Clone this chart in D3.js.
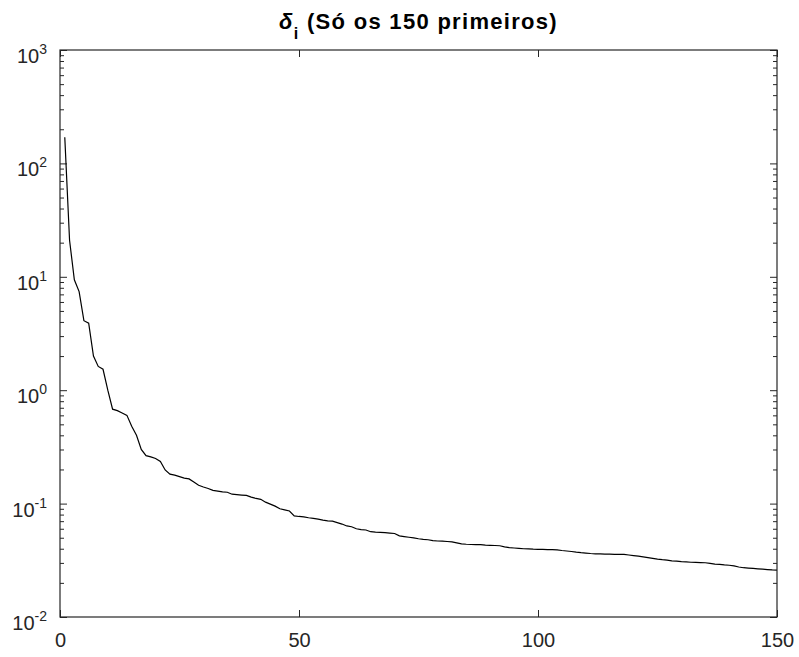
<!DOCTYPE html>
<html>
<head>
<meta charset="utf-8">
<script src="https://cdn.jsdelivr.net/npm/d3@7"></script>
<style>
  body { margin: 0; background: #fff; }
  svg { display: block; font-family: "Liberation Sans", Arial, Helvetica, sans-serif; }
  .axis text { fill: #262626; font-size: 20px; }
  .axis line { stroke: #262626; }
</style>
</head>
<body>
<svg id="chart"></svg>
<script>
// delta_i values, i = 1..150
const deltaValues = [
  170, 21, 9.4, 7.4, 4.1, 3.9, 2.0, 1.62, 1.53, 1.0,
  0.68, 0.66, 0.63, 0.60, 0.48, 0.40, 0.30, 0.265, 0.258, 0.250,
  0.235, 0.198, 0.182, 0.178, 0.173, 0.168, 0.165, 0.155, 0.145, 0.140,
  0.136, 0.131, 0.129, 0.127, 0.126, 0.121, 0.120, 0.119, 0.118, 0.114,
  0.111, 0.109, 0.103, 0.099, 0.095, 0.090, 0.088, 0.086, 0.078, 0.077,
  0.0765, 0.075, 0.0742, 0.073, 0.0715, 0.0705, 0.070, 0.068, 0.066, 0.0635,
  0.0625, 0.060, 0.059, 0.0585, 0.0565, 0.056, 0.0558, 0.0555, 0.0550, 0.0545,
  0.052, 0.0512, 0.0505, 0.0498, 0.0490, 0.0484, 0.0480, 0.0472, 0.0468, 0.0466,
  0.0463, 0.0460, 0.0450, 0.0441, 0.0438, 0.0436, 0.0435, 0.0434, 0.0431, 0.0429,
  0.0427, 0.0425, 0.0415, 0.0409, 0.0406, 0.0403, 0.0400, 0.0398, 0.0396, 0.0395,
  0.0394, 0.0393, 0.0392, 0.0391, 0.0386, 0.0382, 0.0378, 0.0373, 0.0369, 0.0366,
  0.0363, 0.0361, 0.0360, 0.0359, 0.0358, 0.0357, 0.0357, 0.0356, 0.0352, 0.0348,
  0.0344, 0.0339, 0.0334, 0.0329, 0.0324, 0.0320, 0.0317, 0.0313, 0.0311, 0.0308,
  0.0306, 0.0304, 0.0303, 0.0302, 0.0301, 0.0297, 0.0293, 0.0291, 0.0288, 0.0286,
  0.0282, 0.0276, 0.0272, 0.0270, 0.0268, 0.0266, 0.0264, 0.0262, 0.0260, 0.0259
];

const xTicks = [0, 50, 100, 150];
const yExponents = [-2, -1, 0, 1, 2, 3];
const yMinorMultipliers = [2, 3, 4, 5, 6, 7, 8, 9];

const titleMain = "δ";
const titleSub = "i";
const titleRest = " (Só os 150 primeiros)";

const width = 799, height = 657;
const margin = {top: 50, right: 22, bottom: 40, left: 60};

const svg = d3.select("#chart")
    .attr("width", width)
    .attr("height", height);

const x = d3.scaleLinear()
    .domain([0, 150])
    .range([margin.left, width - margin.right]);

const y = d3.scaleLog()
    .domain([1e-2, 1e3])
    .range([height - margin.bottom, margin.top]);

const yMajor = yExponents.map(e => Math.pow(10, e));
const yMinor = [];
yExponents.slice(0, -1).forEach(e => {
  yMinorMultipliers.forEach(m => yMinor.push(m * Math.pow(10, e)));
});

// minor ticks left / right
svg.append("g").attr("class", "axis")
    .attr("transform", `translate(${x(0)},0)`)
    .call(d3.axisLeft(y).tickValues(yMinor).tickSize(-4).tickFormat(""))
    .call(g => g.select(".domain").remove());
svg.append("g").attr("class", "axis")
    .attr("transform", `translate(${x(150)},0)`)
    .call(d3.axisRight(y).tickValues(yMinor).tickSize(-4).tickFormat(""))
    .call(g => g.select(".domain").remove());

// major y ticks with 10^n labels
svg.append("g").attr("class", "axis y-axis")
    .attr("transform", `translate(${x(0)},0)`)
    .call(d3.axisLeft(y).tickValues(yMajor).tickSize(-7).tickPadding(13))
    .call(g => g.select(".domain").remove())
    .selectAll("text")
    .attr("dy", "0.62em")
    .each(function(d) {
      const t = d3.select(this);
      t.text(null);
      t.append("tspan").text("10");
      t.append("tspan")
        .attr("dy", -9)
        .attr("font-size", "14px")
        .text(Math.round(Math.log10(d)));
    });
svg.append("g").attr("class", "axis")
    .attr("transform", `translate(${x(150)},0)`)
    .call(d3.axisRight(y).tickValues(yMajor).tickSize(-7).tickFormat(""))
    .call(g => g.select(".domain").remove());

// x ticks bottom / top
svg.append("g").attr("class", "axis x-axis")
    .attr("transform", `translate(0,${y(1e-2)})`)
    .call(d3.axisBottom(x).tickValues(xTicks).tickSize(-7).tickPadding(16).tickFormat(d3.format("d")))
    .call(g => g.select(".domain").remove());
svg.append("g").attr("class", "axis")
    .attr("transform", `translate(0,${y(1e3)})`)
    .call(d3.axisTop(x).tickValues(xTicks).tickSize(-7).tickFormat(""))
    .call(g => g.select(".domain").remove());

// data line
const line = d3.line()
    .x((d, i) => x(i + 1))
    .y(d => y(d));

svg.append("path")
    .datum(deltaValues)
    .attr("fill", "none")
    .attr("stroke", "#000")
    .attr("stroke-width", 1.2)
    .attr("d", line);

// box
svg.append("rect")
    .attr("x", x(0))
    .attr("y", y(1e3))
    .attr("width", x(150) - x(0))
    .attr("height", y(1e-2) - y(1e3))
    .attr("fill", "none")
    .attr("stroke", "#262626")
    .attr("stroke-width", 1.2);

// title
const title = svg.append("text")
    .attr("x", (x(0) + x(150)) / 2)
    .attr("y", 29)
    .attr("text-anchor", "middle")
    .attr("font-size", "22px")
    .attr("font-weight", "bold")
    .attr("letter-spacing", "1.3px")
    .attr("fill", "#000");
title.append("tspan").attr("font-style", "italic").text(titleMain);
title.append("tspan").attr("dy", 10).attr("font-size", "16px").text(titleSub);
title.append("tspan").attr("dy", -10).text(titleRest);
</script>
</body>
</html>
